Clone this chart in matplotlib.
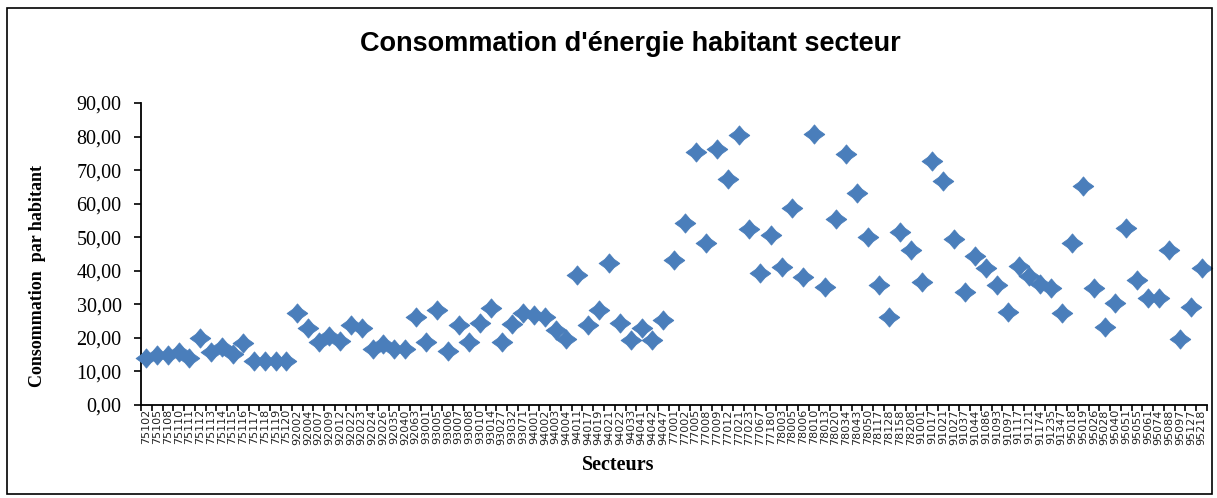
import matplotlib
matplotlib.use("Agg")
import matplotlib.pyplot as plt
from matplotlib.ticker import FuncFormatter, FixedLocator
from matplotlib.patches import Rectangle

# ---- data ----
secteurs = [
    "75102", "75105", "75108", "75110", "75111", "75112", "75113", "75114", "75115", "75116",
    "75117", "75118", "75119", "75120",
    "92002", "92004", "92007", "92009", "92012", "92022", "92023", "92024", "92026", "92035",
    "92040", "92063",
    "93001", "93005", "93006", "93007", "93008", "93010", "93014", "93027", "93032", "93071",
    "94001", "94002", "94003", "94004", "94011", "94017", "94019", "94021", "94022", "94033",
    "94041", "94042", "94047",
    "77001", "77002", "77005", "77008", "77009", "77012", "77021", "77023", "77067", "77180",
    "78003", "78005", "78006", "78010", "78013", "78020", "78034", "78043", "78050", "78117",
    "78128", "78158", "78208",
    "91001", "91017", "91021", "91027", "91037", "91044", "91086", "91093", "91097", "91117",
    "91121", "91174", "91235", "91347",
    "95018", "95019", "95026", "95028", "95040", "95051", "95055", "95061", "95074", "95088",
    "95097", "95127", "95218",
]
consommation = [
    14.0, 14.9, 14.9, 15.9, 14.1, 19.9, 15.7, 17.4, 15.2, 18.4,
    13.2, 13.2, 13.2, 13.2, 27.3, 22.9, 18.7, 20.7, 19.2, 23.8,
    22.9, 16.7, 18.2, 16.7, 16.7, 26.3, 18.8, 28.3, 16.2, 23.8,
    18.9, 24.3, 28.8, 18.9, 24.1, 27.3, 26.8, 26.3, 22.4, 19.6,
    38.7, 23.8, 28.3, 42.4, 24.3, 19.4, 22.9, 19.4, 25.3, 43.2,
    54.3, 75.3, 48.2, 76.3, 67.3, 80.5, 52.4, 39.3, 50.7, 41.2,
    58.8, 38.2, 80.8, 35.3, 55.3, 74.8, 63.3, 50.2, 35.8, 26.1,
    51.7, 46.2, 36.8, 72.8, 66.8, 49.4, 33.6, 44.4, 40.7, 35.8,
    27.8, 41.4, 38.5, 36.1, 34.8, 27.3, 48.2, 65.3, 34.8, 23.2,
    30.3, 52.7, 37.3, 31.8, 31.8, 46.2, 19.7, 29.3, 40.7,
]
y_ticks = [0, 10, 20, 30, 40, 50, 60, 70, 80, 90]

W, H = 1217, 498
fig = plt.figure(figsize=(W / 100, H / 100), dpi=100)
fig.patch.set_facecolor("white")

# outer chart frame
fig.patches.append(Rectangle((7 / W, 1 - 494 / H), (1212 - 7) / W, (494 - 8) / H,
                             transform=fig.transFigure, fill=False,
                             edgecolor="black", linewidth=1.2))

left, right, top, bottom = 141, 1207, 103, 405
ax = fig.add_axes([left / W, 1 - bottom / H, (right - left) / W, (bottom - top) / H])

x = list(range(len(secteurs)))
diamond = [(1, 0), (0.44, 0.40), (0, 0.92), (-0.44, 0.40), (-1, 0),
           (-0.44, -0.40), (0, -0.92), (0.44, -0.40), (1, 0)]
ax.plot(x, consommation, linestyle="none", marker=diamond, markersize=15,
        markerfacecolor="#4A7EBB", markeredgecolor="#4A7EBB", markeredgewidth=0.6,
        clip_on=False, zorder=3)

ax.set_xlim(-0.5, len(secteurs) - 0.5)
ax.set_ylim(0, 90)

for s in ["top", "right"]:
    ax.spines[s].set_visible(False)
for s in ["left", "bottom"]:
    ax.spines[s].set_linewidth(1.3)
    ax.spines[s].set_color("black")

ax.set_yticks(y_ticks)
ax.yaxis.set_major_formatter(FuncFormatter(lambda v, p: f"{v:.2f}".replace(".", ",")))
ax.tick_params(axis="y", direction="out", length=5, width=1.2, pad=9,
               labelsize=14.5, labelfontfamily="Liberation Serif")

ax.set_xticks(x)
ax.set_xticklabels(secteurs, rotation=90, fontsize=8, family="DejaVu Sans",
                   color="#222222")
ax.tick_params(axis="x", which="major", length=0, pad=3)
ax.xaxis.set_minor_locator(FixedLocator([i - 0.5 for i in range(len(secteurs) + 1)]))
ax.tick_params(axis="x", which="minor", direction="out", length=4, width=1.2)

fig.text(630 / W, 1 - 44 / H, "Consommation d'énergie habitant secteur",
         ha="center", va="center", fontsize=19.5, fontweight="bold",
         family="Liberation Sans")
fig.text(38 / W, 1 - 276 / H, "Consommation  par habitant", rotation=90,
         ha="center", va="center", fontsize=13, fontweight="bold",
         family="Liberation Serif")
fig.text(618 / W, 1 - 465 / H, "Secteurs", ha="center", va="center",
         fontsize=14.5, fontweight="bold", family="Liberation Serif")

fig.savefig("out.png", dpi=100, facecolor="white")
